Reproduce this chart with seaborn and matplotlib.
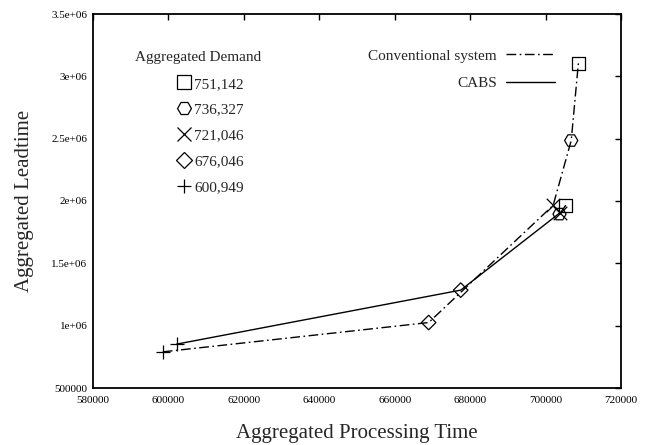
import matplotlib
matplotlib.use("Agg")
import matplotlib.pyplot as plt
from matplotlib.lines import Line2D
import seaborn as sns
import pandas as pd

# ---- data ----
demands = ["751,142", "736,327", "721,046", "676,046", "600,949"]
markers = ["s", "H", "x", "D", "+"]

conv_x = [598500, 669000, 702000, 706800, 708700]
conv_y = [790000, 1025000, 1965000, 2485000, 3105000]
conv_demand = ["600,949", "676,046", "721,046", "736,327", "751,142"]

cabs_x = [602200, 677500, 703800, 703700, 705300]
cabs_y = [852000, 1285000, 1905000, 1895000, 1964000]
cabs_demand = ["600,949", "676,046", "721,046", "736,327", "751,142"]

xticks = [580000, 600000, 620000, 640000, 660000, 680000, 700000, 720000]
yticks = [500000, 1000000, 1500000, 2000000, 2500000, 3000000, 3500000]
ytick_labels = ["500000", "1e+06", "1.5e+06", "2e+06", "2.5e+06", "3e+06", "3.5e+06"]

series_names = ["Conventional system", "CABS"]

df = pd.concat([
    pd.DataFrame({"x": conv_x, "y": conv_y, "demand": conv_demand, "system": series_names[0]}),
    pd.DataFrame({"x": cabs_x, "y": cabs_y, "demand": cabs_demand, "system": series_names[1]}),
], ignore_index=True)

sns.set_theme(style="white")
plt.rcParams["font.family"] = ["Liberation Serif", "DejaVu Serif"]

fig = plt.figure(figsize=(6.47, 4.45), dpi=100)
ax = fig.add_axes([93 / 647, 57 / 445, 528 / 647, 374 / 445])

line_styles = {series_names[0]: (0, (7, 2.5, 1.2, 2.5)), series_names[1]: "-"}
for name in series_names:
    sub = df[df.system == name]
    sns.lineplot(data=sub, x="x", y="y", sort=False, estimator=None, ax=ax,
                 color="black", linewidth=1.0, linestyle=line_styles[name], legend=False)

marker_map = dict(zip(demands, markers))
for d in demands:
    sub = df[df.demand == d]
    m = marker_map[d]
    if m in ("x", "+"):
        sns.scatterplot(data=sub, x="x", y="y", marker=m, s=95, color="black",
                        linewidth=0.9, ax=ax, legend=False, zorder=3)
    else:
        sns.scatterplot(data=sub, x="x", y="y", marker=m, s=90 if m != "D" else 55,
                        facecolor="none", edgecolor="black", linewidth=0.9,
                        ax=ax, legend=False, zorder=3)

ax.set_xlim(xticks[0], xticks[-1])
ax.set_ylim(yticks[0], yticks[-1])
ax.set_xticks(xticks)
ax.set_xticklabels([str(v) for v in xticks])
ax.set_yticks(yticks)
ax.set_yticklabels(ytick_labels)
ax.tick_params(direction="in", top=True, right=True, length=4, width=1.0,
               labelsize=8, colors="black")
ax.tick_params(axis="x", pad=6)
ax.tick_params(axis="y", pad=4)
for s in ax.spines.values():
    s.set_color("black")
    s.set_linewidth(1.3)

ax.set_xlabel("Aggregated Processing Time", fontsize=15)
ax.set_ylabel("Aggregated Leadtime", fontsize=15)
ax.xaxis.set_label_coords(0.5, -0.095)
ax.yaxis.set_label_coords(-0.112, 0.5)

# line legend
lh = [Line2D([], [], color="black", linewidth=1.0, linestyle=line_styles[n]) for n in series_names]
leg1 = ax.legend(lh, series_names, loc="upper right", frameon=False, markerfirst=False,
                 fontsize=11, handlelength=3.2, handletextpad=0.6, labelspacing=0.92,
                 borderpad=0, borderaxespad=0,
                 bbox_to_anchor=(555 / 647, (445 - 49) / 445), bbox_transform=fig.transFigure)
ax.add_artist(leg1)

# marker legend
mh = []
for d in demands:
    m = marker_map[d]
    if m in ("x", "+"):
        mh.append(Line2D([], [], linestyle="none", marker=m, color="black", markersize=10, markeredgewidth=0.9))
    else:
        mh.append(Line2D([], [], linestyle="none", marker=m, markerfacecolor="none",
                         markeredgecolor="black", markersize=10 if m != "D" else 8, markeredgewidth=0.9))
leg2 = ax.legend(mh, demands, loc="upper left", frameon=False, fontsize=11,
                 handlelength=1.0, handletextpad=0.2, labelspacing=0.8,
                 borderpad=0, borderaxespad=0,
                 bbox_to_anchor=(176 / 647, (445 - 77) / 445), bbox_transform=fig.transFigure)
fig.text(198 / 647, (445 - 57) / 445, "Aggregated Demand", fontsize=11, ha="center", va="center")

fig.savefig("out.png", dpi=100)
